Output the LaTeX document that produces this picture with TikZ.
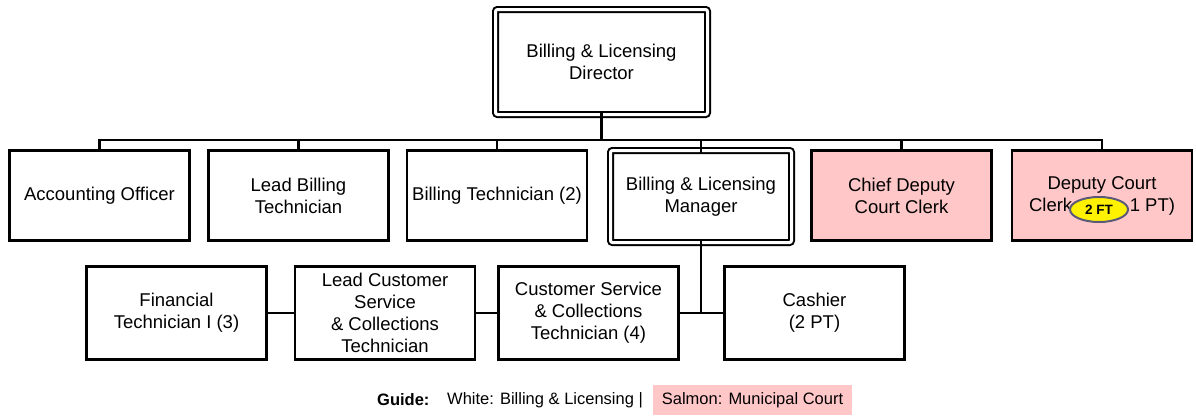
\documentclass[tikz,border=0pt]{standalone}
\usepackage{fontspec}
\setmainfont{Liberation Sans}
\usetikzlibrary{shapes.geometric}
\definecolor{salmon}{HTML}{FFC7C7}
\definecolor{ovaledge}{HTML}{5A5A78}
\tikzset{
  box/.style={draw=black, line width=2.7pt, fill=white, minimum width=180pt, minimum height=90pt,
    align=center, inner sep=1pt, font=\fontsize{18.5}{22}\selectfont},
  dbox/.style={box, line width=2pt, double=white, double distance=3pt, rounded corners=2pt},
  court/.style={box, fill=salmon},
  low/.style={box, minimum height=93pt},
  conn/.style={draw=black, line width=2.6pt},
  oval/.style={ellipse, draw=ovaledge, line width=2pt, fill=yellow, minimum width=58pt,
    minimum height=25pt, inner sep=0pt, font=\fontsize{13.5}{15}\selectfont\bfseries},
  guidetxt/.style={inner sep=0pt, font=\fontsize{16.5}{19}\selectfont}
}
\begin{document}
\begin{tikzpicture}[x=1pt, y=-1pt]
\useasboundingbox (0,0) rectangle (1196,415);
% top
\node[dbox, minimum width=212pt, minimum height=105pt] (dir) at (601.5,62) {Billing \& Licensing\\Director};
% row 1
\node[box] (acc) at (99.5,195.5) {Accounting Officer};
\node[box] (lb) at (298.5,195.5) {Lead Billing\\Technician};
\node[box] (bt) at (497,195.5) {Billing Technician (2)};
\node[dbox, minimum width=181pt, minimum height=92pt] (mgr) at (701,196.5) {Billing \& Licensing\\Manager};
\node[court] (cdc) at (901.5,195.5) {Chief Deputy\\Court Clerk};
\node[court] (dcc) at (1102,195.5) {Deputy Court\\Clerk\phantom{\ (2 FT,\ }1 PT)};
\node[oval] (ft) at (1099,209.5) {2 FT};
% row 2
\node[low] (fin) at (176.5,313) {Financial\\Technician I (3)};
\node[low] (lc) at (385,313) {Lead Customer\\Service\\\& Collections\\Technician};
\node[low] (cs) at (588.5,313) {Customer Service\\\& Collections\\Technician (4)};
\node[low] (cash) at (814.5,313) {Cashier\\(2 PT)};
% bus
\coordinate (bus) at (0,140);
\draw[conn] (acc.north) -- (acc.north |- bus) -- (dcc.north |- bus) -- (dcc.north);
\draw[conn] (lb.north) -- (lb.north |- bus);
\draw[conn] (bt.north) -- (bt.north |- bus);
\draw[conn] ([yshift=-3.5pt]mgr.north) -- (mgr.north |- bus);
\draw[conn] (cdc.north) -- (cdc.north |- bus);
\draw[conn] ([yshift=3.5pt]dir.south) -- (dir.south |- bus);
% row 2 links
\draw[conn] (fin.east) -- (lc.west);
\draw[conn] (lc.east) -- (cs.west);
\draw[conn] (cs.east) -- (cash.west);
\draw[conn] ([yshift=3.5pt]mgr.south) -- (mgr.south |- cs.east);
% guide
\node[guidetxt, anchor=west] (g1) at (377,400) {\bfseries Guide:};
\node[guidetxt, anchor=west] (g2) at (447,400) {White: Billing \& Licensing |};
\node[guidetxt, fill=salmon, minimum width=199pt, minimum height=30pt] (g3) at (752.5,400) {Salmon: Municipal Court};
\end{tikzpicture}
\end{document}
